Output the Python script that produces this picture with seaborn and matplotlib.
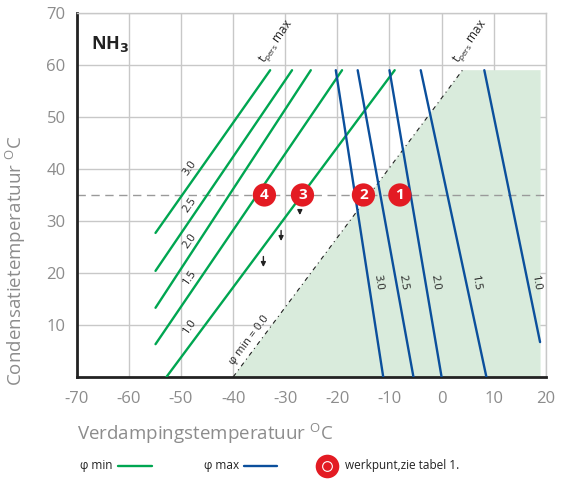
import numpy as np
import pandas as pd
import matplotlib.pyplot as plt
from matplotlib.lines import Line2D
import seaborn as sns

# ---- data ----
# phi min curves (green): label, start point, end point
green_labels = ['3.0', '2.5', '2.0', '1.5', '1.0']
green_x0 = [-54.9, -54.9, -54.9, -54.9, -52.8]
green_y0 = [27.7, 20.4, 13.3, 6.3, 0.0]
green_x1 = [-32.9, -28.7, -25.1, -19.1, -9.0]
green_y1 = [59.0, 59.0, 59.0, 59.0, 59.0]
green_lab_x = [-48.3, -48.3, -48.3, -48.3, -48.3]
green_lab_y = [40.2, 33.1, 26.2, 19.0, 9.6]

# phi max curves (blue)
blue_labels = ['3.0', '2.5', '2.0', '1.5', '1.0']
blue_x0 = [-20.3, -16.1, -10.0, -4.0, 8.2]
blue_y0 = [59.0, 59.0, 59.0, 59.0, 59.0]
blue_x1 = [-11.2, -5.4, 0.0, 8.6, 18.9]
blue_y1 = [0.0, 0.0, 0.0, 0.0, 6.7]
blue_lab_x = [-12.2, -7.3, -1.3, 6.5, 18.1]
blue_lab_y = [18.1, 18.1, 18.1, 18.1, 18.1]

# working area (shaded) and phi min = 0.0 boundary
shade_x = [-40, 4, 19, 19]
shade_y = [0, 59, 59, 0]
bound_x = [-40, 4]
bound_y = [0, 59]

# werkpunten
wp_labels = ['4', '3', '2', '1']
wp_x = [-34.0, -26.7, -15.0, -8.0]
wp_y = [35, 35, 35, 35]
ref_y = 35

# small arrows
arrow_x = [-27.2, -30.8, -34.2]
arrow_y0 = [32.5, 28.7, 23.7]
arrow_y1 = [30.6, 25.6, 20.6]

x_ticks = list(range(-70, 21, 10))
y_ticks = list(range(10, 71, 10))

GREEN = '#00a651'
BLUE = '#0b4f9c'
RED = '#e31b23'
SHADE = '#d9ebdc'
GRAY = '#8c8c8c'
GRID = '#c8c8c8'
DARK = '#222222'

sns.set_theme(style="whitegrid")
plt.rcParams['font.family'] = ['Open Sans', 'DejaVu Sans']
plt.rcParams['axes.unicode_minus'] = False

fig = plt.figure(figsize=(5.65, 4.82), dpi=100)
ax = fig.add_axes([0.136, 0.218, 0.830, 0.755])

# shaded region
ax.fill(shade_x, shade_y, color=SHADE, lw=0, zorder=1)
ax.plot(bound_x, bound_y, color=DARK, lw=0.8, ls=(0, (4, 3.5, 1, 3.5)), zorder=2)

# reference line
ax.axhline(ref_y, color='#9a9a9a', lw=1, ls=(0, (6, 4)), zorder=2)

def lines_df(x0, y0, x1, y1, labels):
    rows = []
    for i, lab in enumerate(labels):
        rows.append({'curve': i, 'x': x0[i], 'y': y0[i]})
        rows.append({'curve': i, 'x': x1[i], 'y': y1[i]})
    return pd.DataFrame(rows)

g_df = lines_df(green_x0, green_y0, green_x1, green_y1, green_labels)
b_df = lines_df(blue_x0, blue_y0, blue_x1, blue_y1, blue_labels)

sns.lineplot(data=g_df, x='x', y='y', units='curve', estimator=None, sort=False,
             color=GREEN, lw=1.7, ax=ax, zorder=3)
sns.lineplot(data=b_df, x='x', y='y', units='curve', estimator=None, sort=False,
             color=BLUE, lw=1.7, ax=ax, zorder=3)

for lab, x, y in zip(green_labels, green_lab_x, green_lab_y):
    ax.text(x, y, lab, fontsize=8, rotation=55, ha='center', va='center', color=DARK)
for lab, x, y in zip(blue_labels, blue_lab_x, blue_lab_y):
    ax.text(x, y, lab, fontsize=8, rotation=-81, ha='center', va='center', color=DARK)

ax.text(-36.9, 7.1, 'φ min = 0.0', fontsize=8, rotation=53, ha='center', va='center',
        color=DARK)
for tx in [-31.8, 5.6]:
    ax.text(tx, 64.5, r'$\mathregular{t_{pers}}$ max', fontsize=8.5, rotation=55,
            ha='center', va='center', color=DARK)

ax.text(-67.3, 64, r'NH$_\mathbf{3}$', fontsize=13, fontweight='bold', color=DARK,
        ha='left', va='center')

# arrows
for x, y0, y1 in zip(arrow_x, arrow_y0, arrow_y1):
    ax.annotate('', xy=(x, y1), xytext=(x, y0),
                arrowprops=dict(arrowstyle='-|>', color=DARK, lw=1, mutation_scale=7))

# werkpunten
sns.scatterplot(x=wp_x, y=wp_y, s=280, color=RED, edgecolor='none', ax=ax, zorder=5)
for lab, x, y in zip(wp_labels, wp_x, wp_y):
    ax.text(x, y, lab, color='white', fontsize=11, fontweight='bold',
            ha='center', va='center', zorder=6)

ax.set_xlim(-70, 20)
ax.set_ylim(0, 70)
ax.set_xticks(x_ticks)
ax.set_yticks(y_ticks)
ax.grid(True, color=GRID, lw=1)
ax.tick_params(axis='x', labelsize=12, labelcolor=GRAY, length=0, pad=10)
ax.tick_params(axis='y', labelsize=12, labelcolor=GRAY, length=0, pad=8)
for s in ['left', 'bottom']:
    ax.spines[s].set_color(DARK)
    ax.spines[s].set_linewidth(2)
for s in ['top', 'right']:
    ax.spines[s].set_color(GRID)
    ax.spines[s].set_linewidth(1)
ax.set_xlabel(r'Verdampingstemperatuur $^\mathregular{O}$C', fontsize=13.5, color=GRAY,
              labelpad=10, loc='left')
ax.set_ylabel(r'Condensatietemperatuur $^\mathregular{O}$C', fontsize=13.5, color=GRAY,
              loc='bottom')
ax.yaxis.set_label_coords(-0.104, -0.025)

# legend row under the chart
ly = 0.034
fig.text(0.142, ly, 'φ min', fontsize=8.5, color=DARK, ha='left', va='center')
fig.add_artist(Line2D([0.209, 0.269], [ly, ly], color=GREEN, lw=1.7, transform=fig.transFigure))
fig.text(0.361, ly, 'φ max', fontsize=8.5, color=DARK, ha='left', va='center')
fig.add_artist(Line2D([0.431, 0.491], [ly, ly], color=BLUE, lw=1.7, transform=fig.transFigure))
fig.add_artist(Line2D([0.579], [ly], marker='o', markersize=17, color=RED, markeredgecolor='none',
                      ls='', transform=fig.transFigure))
fig.add_artist(Line2D([0.579], [ly], marker='o', markersize=7, markerfacecolor='none',
                      markeredgecolor='white', markeredgewidth=0.8, ls='',
                      transform=fig.transFigure))
fig.text(0.611, ly, 'werkpunt,zie tabel 1.', fontsize=8.5, color=DARK, ha='left', va='center')

fig.savefig('out.png', dpi=100)
